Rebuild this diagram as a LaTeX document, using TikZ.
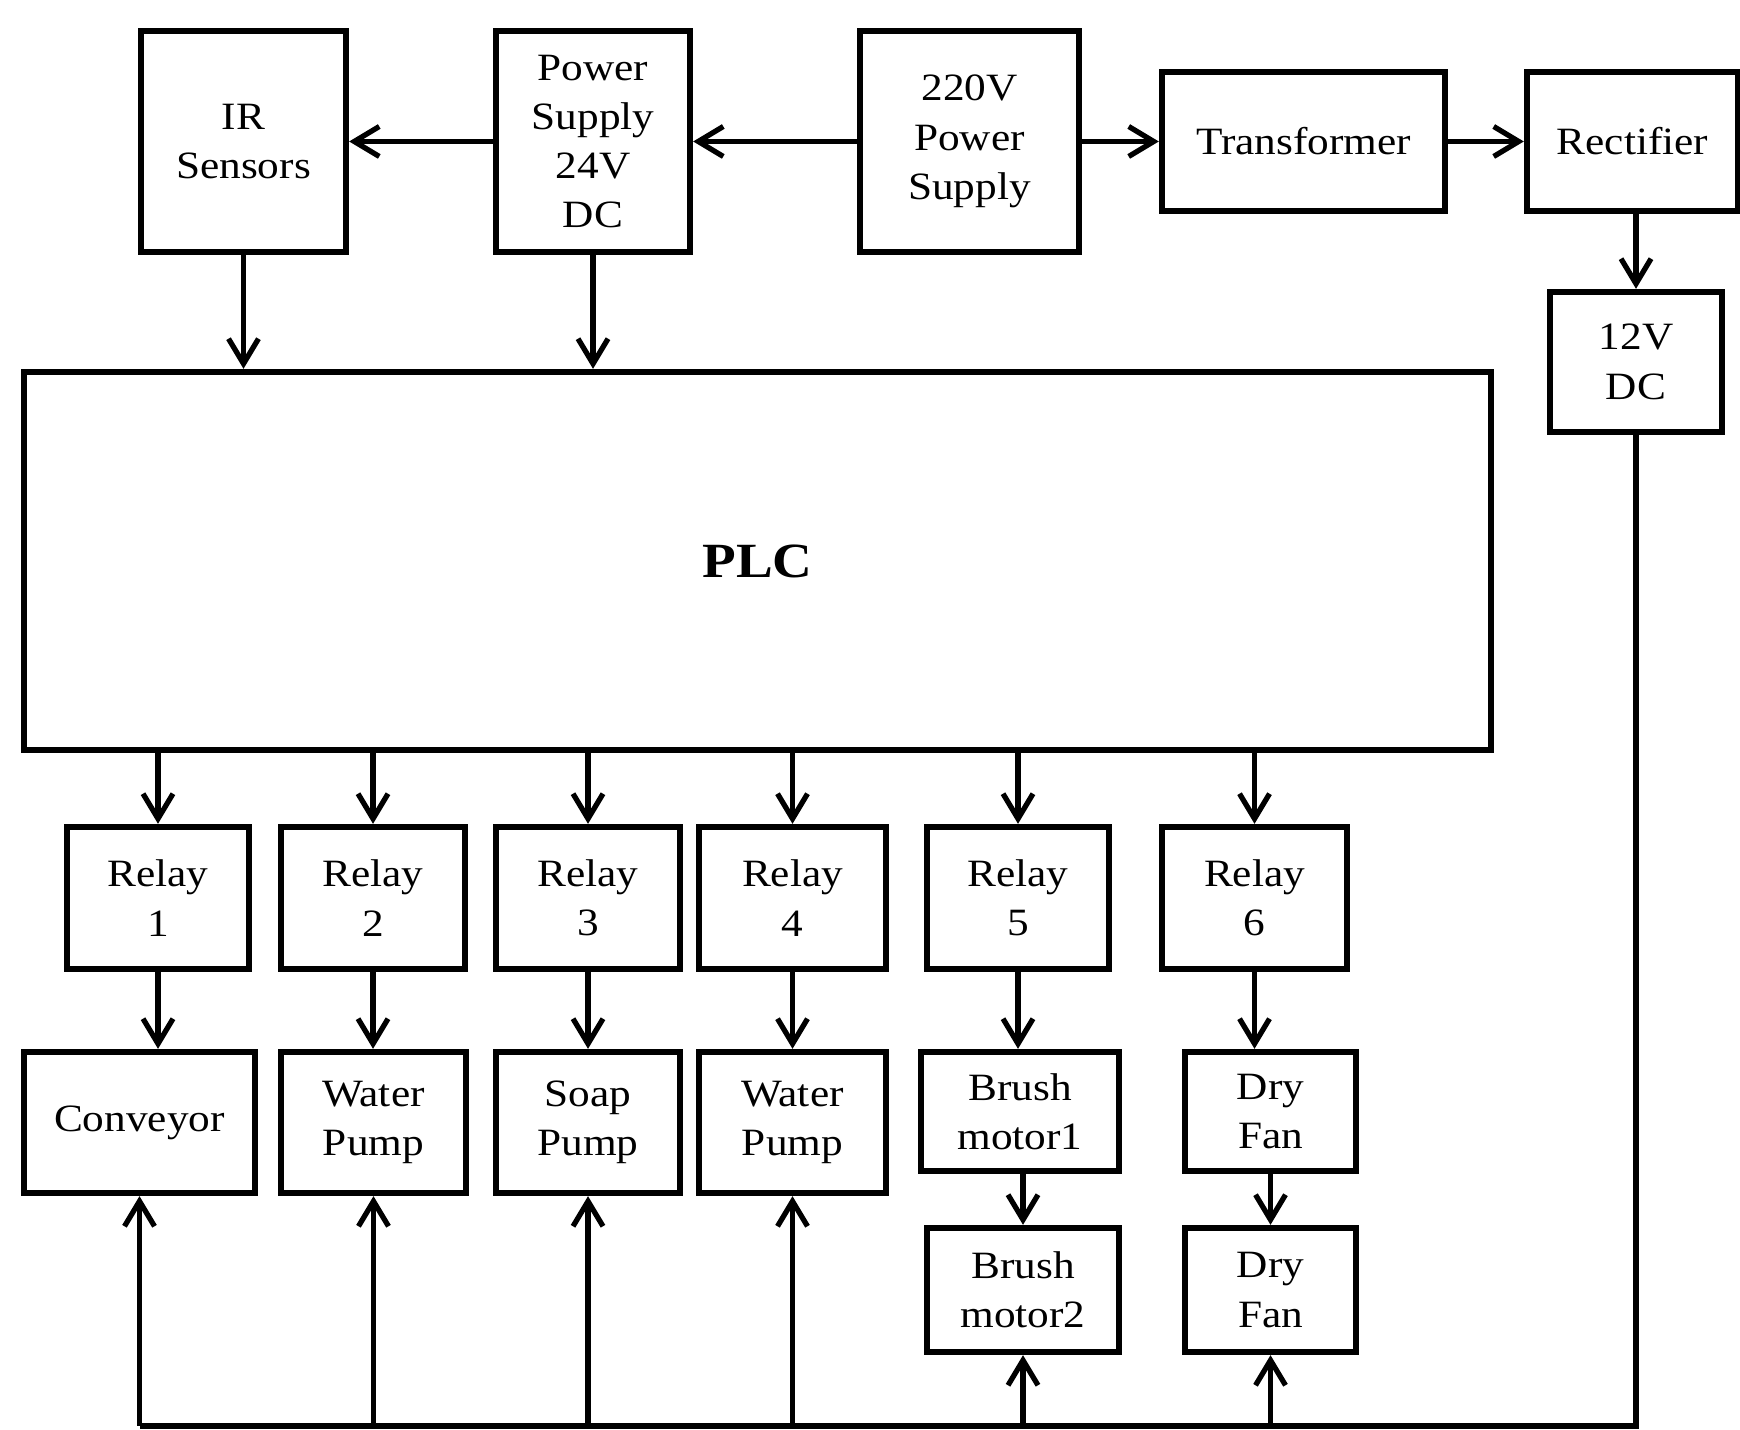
\documentclass[tikz,border=0pt]{standalone}
\usepackage{fontspec}
\setmainfont{Liberation Serif}[FakeStretch=1.12]
\usepackage{tikz}
\usetikzlibrary{arrows.meta,positioning}

\begin{document}
\begin{tikzpicture}[
    block/.style={rectangle, draw, line width=1.8pt, inner sep=0pt, align=center, font=\fontsize{11}{14}\selectfont},
    arrow/.style={-{Straight Barb[length=2.5mm, width=3mm]}, line width=1.5pt},
    wire/.style={line width=1.5pt}
]
\useasboundingbox (0,0) rectangle (17.4,-14.3);

\node[block, minimum width=2.05cm, minimum height=2.21cm] (ir) at (2.435,-1.415) {IR\\Sensors};
\node[block, minimum width=1.94cm, minimum height=2.21cm] (ps24) at (5.93,-1.415) {Power\\Supply\\24V\\DC};
\node[block, minimum width=2.19cm, minimum height=2.21cm] (ac220) at (9.695,-1.415) {220V\\Power\\Supply};
\node[block, minimum width=2.83cm, minimum height=1.39cm] (trans) at (13.035,-1.415) {Transformer};
\node[block, minimum width=2.11cm, minimum height=1.39cm] (rect) at (16.325,-1.415) {Rectifier};
\node[block, minimum width=1.72cm, minimum height=1.40cm] (dc12) at (16.36,-3.62) {12V\\DC};

\node[block, minimum width=14.67cm, minimum height=3.78cm, font=\fontsize{14}{17}\selectfont\bfseries] (plc) at (7.575,-5.61) {PLC};

\foreach \i/\x/\w in {1/1.58/1.82, 2/3.73/1.84, 3/5.88/1.84, 4/7.925/1.87, 5/10.18/1.82, 6/12.545/1.85}
    \node[block, minimum width=\w cm, minimum height=1.42cm] (relay\i) at (\x,-8.98) {Relay\\\i};

\node[block, minimum width=2.31cm, minimum height=1.41cm] (conveyor) at (1.395,-11.225) {Conveyor};
\node[block, minimum width=1.85cm, minimum height=1.41cm] (wpump1) at (3.735,-11.225) {Water\\Pump};
\node[block, minimum width=1.84cm, minimum height=1.41cm] (spump) at (5.88,-11.225) {Soap\\Pump};
\node[block, minimum width=1.87cm, minimum height=1.41cm] (wpump2) at (7.925,-11.225) {Water\\Pump};
\node[block, minimum width=1.98cm, minimum height=1.19cm] (brush1) at (10.2,-11.115) {Brush\\motor1};
\node[block, minimum width=1.71cm, minimum height=1.19cm] (fan1) at (12.705,-11.115) {Dry\\Fan};
\node[block, minimum width=1.92cm, minimum height=1.24cm] (brush2) at (10.23,-12.9) {Brush\\motor2};
\node[block, minimum width=1.71cm, minimum height=1.24cm] (fan2) at (12.705,-12.9) {Dry\\Fan};

\coordinate (bus) at (0,-14.26);

\draw[arrow] (ac220) -- (ps24);
\draw[arrow] (ps24) -- (ir);
\draw[arrow] (ac220) -- (trans);
\draw[arrow] (trans) -- (rect);
\draw[arrow] (dc12 |- rect.south) -- (dc12);
\draw[arrow] (ir) -- (ir |- plc.north);
\draw[arrow] (ps24) -- (ps24 |- plc.north);

\foreach \i/\t in {1/conveyor, 2/wpump1, 3/spump, 4/wpump2, 5/brush1, 6/fan1} {
    \draw[arrow] (relay\i |- plc.south) -- (relay\i);
    \draw[arrow] (relay\i) -- (relay\i |- \t.north);
}
\draw[arrow] (brush2 |- brush1.south) -- (brush2);
\draw[arrow] (fan2 |- fan1.south) -- (fan2);

\draw[wire] (dc12) -- (dc12 |- bus) -- (conveyor |- bus);
\foreach \t in {conveyor, wpump1, spump, wpump2, brush2, fan2}
    \draw[arrow] (\t |- bus) -- (\t);
\end{tikzpicture}
\end{document}
